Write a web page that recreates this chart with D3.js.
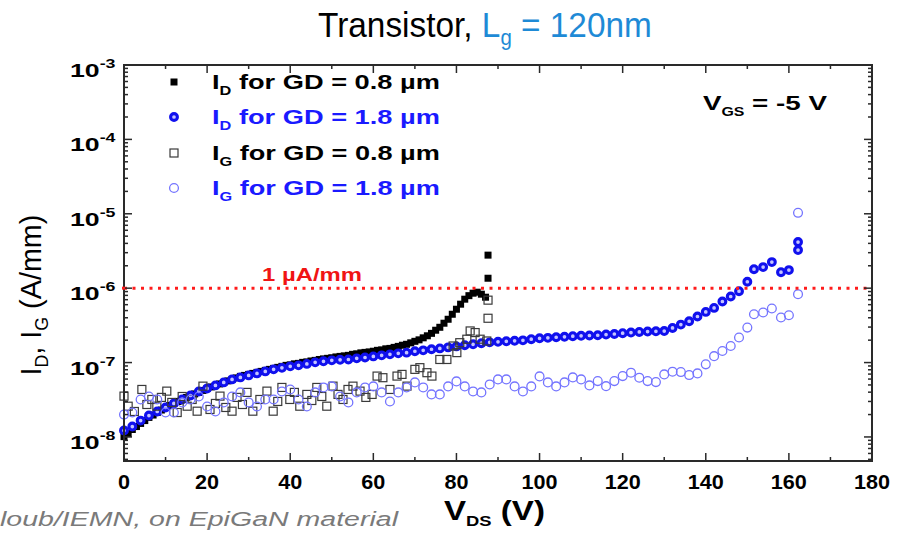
<!DOCTYPE html>
<html><head><meta charset="utf-8">
<script src="https://cdn.jsdelivr.net/npm/d3@7"></script>
<style>body{margin:0;background:#fff}svg{display:block}</style>
</head><body>
<svg id="c" width="902" height="533"></svg>
<script>
// ---------- data ----------
const xTicks = [0, 20, 40, 60, 80, 100, 120, 140, 160, 180];
const yTickExp = [-3, -4, -5, -6, -7, -8];
const limitValue = 1e-6;

// I_D, GD = 0.8 um (filled black squares)
const idGd08V = [0,1,2,3,4,5,6,7,8,9,10,11,12,13,14,15,16,17,18,19,20,21,22,23,24,25,26,27,28,29,30,31,32,33,34,35,36,37,38,39,40,41,42,43,44,45,46,47,48,49,50,51,52,53,54,55,56,57,58,59,60,61,62,63,64,65,66,67,68,69,70,71,72,73,74,75,76,77,78,79,80,81,82,83,84,85,86,87,87.6,87.6];
const idGd08 = [1.01e-8,1.11e-8,1.26e-8,1.38e-8,1.52e-8,1.66e-8,1.83e-8,1.97e-8,2.13e-8,2.30e-8,2.49e-8,2.65e-8,2.82e-8,3.00e-8,3.19e-8,3.40e-8,3.61e-8,3.79e-8,3.97e-8,4.22e-8,4.49e-8,4.70e-8,4.93e-8,5.16e-8,5.41e-8,5.67e-8,5.94e-8,6.22e-8,6.52e-8,6.72e-8,6.93e-8,7.15e-8,7.38e-8,7.61e-8,7.85e-8,8.10e-8,8.35e-8,8.62e-8,8.89e-8,9.17e-8,9.31e-8,9.61e-8,9.75e-8,1.006e-7,1.02e-7,1.05e-7,1.07e-7,1.10e-7,1.12e-7,1.14e-7,1.16e-7,1.19e-7,1.21e-7,1.23e-7,1.25e-7,1.29e-7,1.31e-7,1.35e-7,1.37e-7,1.39e-7,1.42e-7,1.46e-7,1.48e-7,1.53e-7,1.55e-7,1.60e-7,1.65e-7,1.71e-7,1.76e-7,1.84e-7,1.93e-7,2.02e-7,2.15e-7,2.29e-7,2.47e-7,2.72e-7,2.98e-7,3.38e-7,3.82e-7,4.46e-7,5.21e-7,6.09e-7,7.11e-7,7.93e-7,8.56e-7,8.83e-7,8.30e-7,7.56e-7,2.78e-6,1.36e-6];

// I_D, GD = 1.8 um (filled blue circles)
const idGd18V = [0,2,4,6,8,10,12,14,16,18,20,22,24,26,28,30,32,34,36,38,40,42,44,46,48,50,52,54,56,58,60,62,64,66,68,70,72,74,76,78,80,82,84,86,88,90,92,94,96,98,100,102,104,106,108,110,112,114,116,118,120,122,124,126,128,130,132,134,136,138,140,142,144,146,148,150,151.6,153.8,155.9,158.1,160,162.2,162.2];
const idGd18 = [1.22e-8,1.38e-8,1.66e-8,1.94e-8,2.20e-8,2.49e-8,2.82e-8,3.19e-8,3.61e-8,4.09e-8,4.49e-8,4.93e-8,5.41e-8,5.94e-8,6.32e-8,6.72e-8,7.15e-8,7.61e-8,8.10e-8,8.49e-8,8.89e-8,9.17e-8,9.60e-8,1.007e-7,1.04e-7,1.07e-7,1.09e-7,1.10e-7,1.14e-7,1.17e-7,1.21e-7,1.25e-7,1.29e-7,1.33e-7,1.36e-7,1.42e-7,1.46e-7,1.51e-7,1.55e-7,1.60e-7,1.65e-7,1.71e-7,1.76e-7,1.82e-7,1.87e-7,1.90e-7,1.93e-7,1.96e-7,1.99e-7,2.06e-7,2.12e-7,2.15e-7,2.19e-7,2.22e-7,2.26e-7,2.29e-7,2.31e-7,2.33e-7,2.38e-7,2.42e-7,2.48e-7,2.53e-7,2.58e-7,2.61e-7,2.63e-7,2.65e-7,2.92e-7,3.24e-7,3.59e-7,4.16e-7,4.80e-7,5.43e-7,6.62e-7,7.73e-7,9.11e-7,1.22e-6,1.80e-6,1.92e-6,2.24e-6,1.64e-6,1.75e-6,4.17e-6,3.25e-6];

// I_G, GD = 0.8 um (open black squares)
const igGd08V = [0,1,2.5,4.3,5.5,6.7,7.9,9,10.3,11.5,12.8,14,15.2,16.4,17.6,19,20.7,22,23.1,24.5,26,27.2,28.5,29.6,31,32.7,34.4,35.9,37,38,39.9,41,42.3,44,45.2,46.4,47.6,48.8,50.3,51.5,52.7,53.9,55.1,56.8,58.2,59.7,60.9,62.3,64,65.7,66.9,68.1,70,71.2,72.9,74.1,76,77.7,79.2,80.1,80.8,82.5,83.3,84.5,85.7,87.3,87.6,87.6];
const igGd08 = [3.54e-8,2.59e-8,2.20e-8,4.35e-8,2.73e-8,3.19e-8,2.59e-8,3.40e-8,4.13e-8,2.91e-8,2.13e-8,3.50e-8,2.59e-8,3.19e-8,2.22e-8,4.82e-8,2.34e-8,2.82e-8,3.54e-8,2.49e-8,2.22e-8,3.40e-8,2.73e-8,3.97e-8,2.22e-8,3.19e-8,4.13e-8,2.22e-8,3.00e-8,4.63e-8,3.19e-8,3.97e-8,2.59e-8,3.73e-8,3.09e-8,4.63e-8,3.50e-8,2.59e-8,4.82e-8,3.73e-8,3.19e-8,4.35e-8,4.82e-8,4.13e-8,3.40e-8,3.73e-8,6.58e-8,6.26e-8,4.35e-8,6.58e-8,6.93e-8,4.82e-8,8.10e-8,8.54e-8,7.31e-8,6.58e-8,1.10e-7,1.10e-7,1.67e-7,1.36e-7,1.85e-7,2.06e-7,2.66e-7,2.53e-7,2.06e-7,1.95e-7,6.9e-7,3.94e-7];

// I_G, GD = 1.8 um (open light-blue circles)
const igGd18V = [0,2,4,6,8,10,12,14,16,18,20,22,24,26,28,30,32,34,36,38,40,42,44,46,48,50,52,54,56,58,60,62,64,66,68,70,72,74,76,78,80,82,84,86,88,90,92,94,96,98,100,102,104,106,108,110,112,114,116,118,120,122,124,126,128,130,132,134,136,138,140,142,144,146,148,150,151.6,153.8,155.9,158.1,160,162.2,162.2];
const igGd18 = [2.0e-8,2.13e-8,3.19e-8,3.50e-8,3.19e-8,2.13e-8,2.13e-8,2.91e-8,3.19e-8,3.50e-8,2.57e-8,2.20e-8,2.91e-8,3.50e-8,3.97e-8,2.91e-8,2.57e-8,3.19e-8,3.19e-8,4.09e-8,4.35e-8,3.19e-8,2.57e-8,3.97e-8,4.63e-8,4.78e-8,3.50e-8,2.91e-8,3.97e-8,4.63e-8,4.78e-8,3.97e-8,3.00e-8,3.97e-8,4.63e-8,5.41e-8,4.63e-8,3.73e-8,3.73e-8,4.78e-8,5.58e-8,4.78e-8,4.09e-8,3.97e-8,5.08e-8,5.94e-8,5.94e-8,4.78e-8,4.09e-8,4.78e-8,6.52e-8,5.41e-8,4.78e-8,5.41e-8,6.32e-8,5.94e-8,4.93e-8,5.63e-8,4.82e-8,5.63e-8,6.58e-8,7.31e-8,6.26e-8,5.63e-8,5.46e-8,6.93e-8,7.54e-8,7.45e-8,6.79e-8,7.15e-8,9.46e-8,1.22e-7,1.43e-7,1.67e-7,2.17e-7,2.95e-7,4.46e-7,4.71e-7,5.33e-7,4.03e-7,4.33e-7,8.30e-7,1.03e-5];

const legendLabels = [
  {main: "I", sub: "D", rest: " for GD = 0.8 µm"},
  {main: "I", sub: "D", rest: " for GD = 1.8 µm"},
  {main: "I", sub: "G", rest: " for GD = 0.8 µm"},
  {main: "I", sub: "G", rest: " for GD = 1.8 µm"}
];

// ---------- layout ----------
const FONT = "'Liberation Sans', Arial, Helvetica, sans-serif";
const L = 124, R = 872, T = 65, B = 461;
const svg = d3.select("#c");
const x = d3.scaleLinear().domain([0, 180]).range([L, R]);
const y = d3.scaleLog().domain([4.75e-9, 1e-3]).range([B, T]);

// text helper: parts = [{t, size, dy, fill}], fit to width or fixed scale k
function txt(o) {
  const g = svg.append("g");
  const t = g.append("text").attr("font-family", FONT).attr("font-size", o.size)
    .attr("font-weight", o.weight || "normal").attr("fill", o.fill || "#000")
    .attr("font-style", o.italic ? "italic" : "normal");
  o.parts.forEach(p => {
    const s = t.append("tspan").text(p.t);
    if (p.size) s.attr("font-size", p.size);
    if (p.dy) s.attr("dy", p.dy);
    if (p.fill) s.attr("fill", p.fill);
  });
  const bb = t.node().getBBox();
  const k = o.w ? o.w / bb.width : (o.k || 1);
  const ky = o.ky || 1;
  const w = bb.width * k;
  if (o.rotate) {
    g.attr("transform", `translate(${o.x},${o.y}) rotate(-90) scale(${k},${ky}) translate(${-bb.x - bb.width / 2},0)`);
  } else {
    let left = o.x;
    if (o.anchor === "end") left = o.x - w;
    else if (o.anchor === "middle") left = o.x - w / 2;
    g.attr("transform", `translate(${left - bb.x * k},${o.y}) scale(${k},${ky})`);
  }
  return g;
}

// ---------- series ----------
const series = svg.append("g");
function sq(data, size, fill, stroke, sw) {
  series.append("g").selectAll("rect").data(data).join("rect")
    .attr("x", d => x(d[0]) - size / 2).attr("y", d => y(d[1]) - size / 2)
    .attr("width", size).attr("height", size)
    .attr("fill", fill).attr("stroke", stroke).attr("stroke-width", sw);
}
function ci(data, r, fill, stroke, sw) {
  series.append("g").selectAll("circle").data(data).join("circle")
    .attr("cx", d => x(d[0])).attr("cy", d => y(d[1])).attr("r", r)
    .attr("fill", fill).attr("stroke", stroke).attr("stroke-width", sw);
}
const zip = (a, b) => a.map((v, i) => [v, b[i]]);
sq(zip(idGd08V, idGd08), 7, "#000", "none", 0);
ci(zip(idGd18V, idGd18), 3.4, "#c4c4ff", "#1010ee", 3.1);
sq(zip(igGd08V, igGd08), 8, "none", "#3a3a3a", 1.2);
ci(zip(igGd18V, igGd18), 4.4, "none", "#7474ff", 1.3);

// 1 uA/mm limit line
svg.append("line").attr("x1", L).attr("x2", R).attr("y1", y(limitValue)).attr("y2", y(limitValue))
  .attr("stroke", "#ff1c1c").attr("stroke-width", 3).attr("stroke-dasharray", "3 5.5");

// ---------- frame & ticks ----------
const ax = svg.append("g").attr("stroke", "#2a2a2a").attr("fill", "none");
const xMinor = [10, 30, 50, 70, 90, 110, 130, 150, 170];
function tickX(vals, yy, len) {
  ax.append("g").selectAll("line").data(vals).join("line")
    .attr("x1", d => x(d)).attr("x2", d => x(d)).attr("y1", yy).attr("y2", yy + len).attr("stroke-width", 1.5);
}
tickX(xTicks, B, -8); tickX(xMinor, B, -4); tickX(xTicks, T, 8); tickX(xMinor, T, 4);
const yMajor = yTickExp.map(e => Math.pow(10, e));
const yMinor = [];
for (let e = -9; e < -3; e++) for (let m = 2; m <= 9; m++) { const v = m * Math.pow(10, e); if (v >= 4.75e-9 && v <= 1e-3) yMinor.push(v); }
function tickY(vals, xx, len) {
  ax.append("g").selectAll("line").data(vals).join("line")
    .attr("y1", d => y(d)).attr("y2", d => y(d)).attr("x1", xx).attr("x2", xx + len).attr("stroke-width", 1.5);
}
tickY(yMajor, L, 8); tickY(yMinor, L, 4); tickY(yMajor, R, -8); tickY(yMinor, R, -4);
ax.append("rect").attr("x", L).attr("y", T).attr("width", R - L).attr("height", B - T).attr("stroke-width", 2);

// red marker on axis
svg.append("rect").attr("x", L - 2).attr("y", y(limitValue) - 1.5).attr("width", 3).attr("height", 3).attr("fill", "#ff1c1c");

// ---------- tick labels ----------
xTicks.forEach(v => txt({x: x(v), y: 489, anchor: "middle", size: 20, weight: "bold", k: 1.08, parts: [{t: String(v)}]}));
yTickExp.forEach(e => txt({x: 116, y: y(Math.pow(10, e)) + 12, anchor: "end", size: 18, weight: "bold", w: 46,
  parts: [{t: "10"}, {t: String(e), size: 12, dy: -9}]}));

// ---------- axis titles ----------
txt({x: 41, y: 295, rotate: true, size: 26, w: 161, ky: 1.1,
  parts: [{t: "I"}, {t: "D", size: 16, dy: 6}, {t: ", I", dy: -6}, {t: "G", size: 16, dy: 6}, {t: " (A/mm)", dy: -6}]});
txt({x: 444, y: 520, size: 27, weight: "bold", w: 101,
  parts: [{t: "V"}, {t: "DS", size: 15, dy: 6}, {t: " (V)", dy: -6}]});

// ---------- title ----------
txt({x: 318, y: 37, size: 36, w: 334,
  parts: [{t: "Transistor, "}, {t: "L", fill: "#1e8ad6"}, {t: "g", size: 22, dy: 8, fill: "#1e8ad6"}, {t: " = 120nm", dy: -8, fill: "#1e8ad6"}]});

// ---------- legend ----------
const legRows = [82, 117, 153, 188];
const legColors = ["#000", "#1a1aff", "#000", "#1a1aff"];
sq([[x.invert(174), y.invert(legRows[0])]], 7, "#000", "none", 0);
ci([[x.invert(174), y.invert(legRows[1])]], 3.4, "#c4c4ff", "#1010ee", 3.1);
sq([[x.invert(174), y.invert(legRows[2])]], 8, "none", "#3a3a3a", 1.2);
ci([[x.invert(174), y.invert(legRows[3])]], 4.4, "none", "#7474ff", 1.3);
legendLabels.forEach((lb, i) => txt({x: 212, y: legRows[i] + 7, size: 20, weight: "bold", w: 228, fill: legColors[i],
  parts: [{t: lb.main}, {t: lb.sub, size: 12, dy: 6}, {t: lb.rest, dy: -6}]}));

// ---------- annotations ----------
txt({x: 703, y: 110, size: 21, weight: "bold", w: 124,
  parts: [{t: "V"}, {t: "GS", size: 12, dy: 6}, {t: " = -5 V", dy: -6}]});
txt({x: 262, y: 281, size: 19, weight: "bold", w: 100, fill: "#f01414", parts: [{t: "1 µA/mm"}]});

// footer credit
txt({x: 0, y: 526, size: 21, italic: true, w: 400, fill: "#7a7a7a", parts: [{t: "loub/IEMN, on EpiGaN material"}]});
</script>
</body></html>
